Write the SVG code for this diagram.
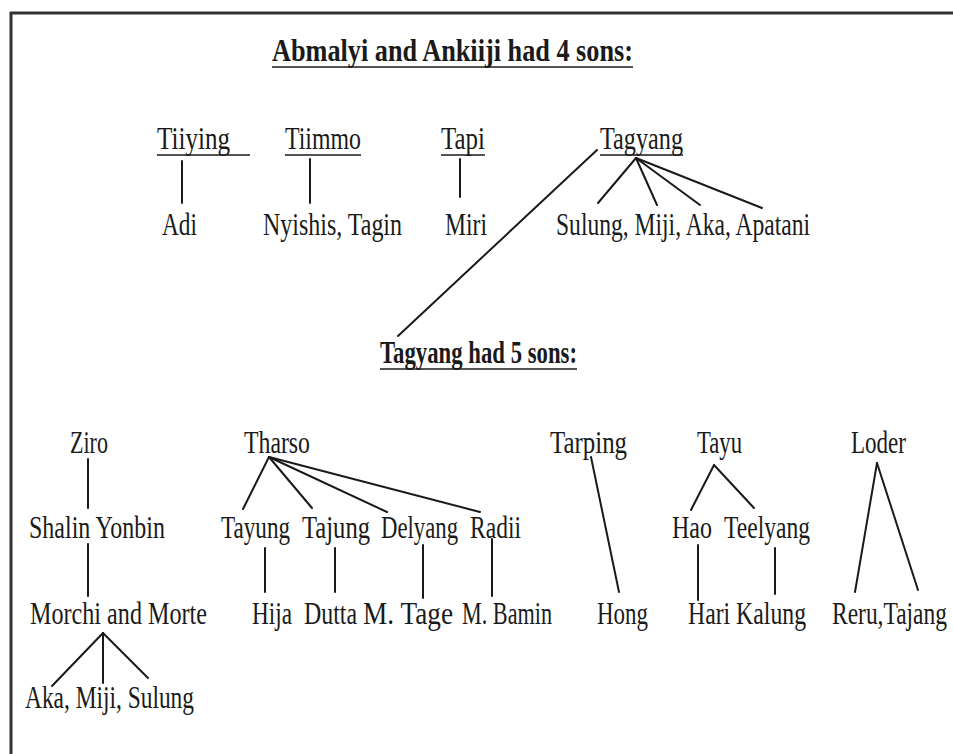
<svg xmlns="http://www.w3.org/2000/svg" width="953" height="754" viewBox="0 0 953 754">
<style>
text{font-family:"Liberation Serif","Times New Roman",serif;font-size:31px;fill:#1a1a1a}
.t{font-weight:bold}
.c line{stroke:#1a1a1a;stroke-width:2;stroke-linecap:round}
.u{stroke:#1a1a1a;stroke-width:1.6}
</style>
<rect width="953" height="754" fill="#ffffff"/>
<g id="frame" stroke="#333" stroke-width="3" fill="none">
<line x1="10" y1="13" x2="953" y2="13"/>
<line x1="11" y1="12" x2="11" y2="754"/>
</g>
<g id="title1"><text class="t" x="272" y="61" textLength="361" lengthAdjust="spacingAndGlyphs">Abmalyi and Ankiiji had 4 sons:</text><line class="u" x1="272" y1="67" x2="633" y2="67" stroke-width="2"/></g>
<g id="tiiying"><text x="157" y="149" textLength="73" lengthAdjust="spacingAndGlyphs">Tiiying</text><line class="u" x1="157" y1="155" x2="250" y2="155"/></g>
<g id="tiimmo"><text x="285" y="149" textLength="76" lengthAdjust="spacingAndGlyphs">Tiimmo</text><line class="u" x1="285" y1="155" x2="361" y2="155"/></g>
<g id="tapi"><text x="441" y="149" textLength="44" lengthAdjust="spacingAndGlyphs">Tapi</text><line class="u" x1="441" y1="155" x2="485" y2="155"/></g>
<g id="tagyang"><text x="600" y="149" textLength="83" lengthAdjust="spacingAndGlyphs">Tagyang</text><line class="u" x1="600" y1="155" x2="683" y2="155"/></g>
<g id="adi"><text x="162" y="235" textLength="35" lengthAdjust="spacingAndGlyphs">Adi</text></g>
<g id="nyishis"><text x="263" y="235" textLength="139" lengthAdjust="spacingAndGlyphs">Nyishis, Tagin</text></g>
<g id="miri"><text x="445" y="235" textLength="42" lengthAdjust="spacingAndGlyphs">Miri</text></g>
<g id="sulung1"><text x="556" y="235" textLength="254" lengthAdjust="spacingAndGlyphs">Sulung, Miji, Aka, Apatani</text></g>
<g id="title2"><text class="t" x="380" y="363" textLength="197" lengthAdjust="spacingAndGlyphs">Tagyang had 5 sons:</text><line class="u" x1="380" y1="369" x2="577" y2="369" stroke-width="2"/></g>
<g id="ziro"><text x="70" y="453" textLength="38" lengthAdjust="spacingAndGlyphs">Ziro</text></g>
<g id="tharso"><text x="244" y="453" textLength="66" lengthAdjust="spacingAndGlyphs">Tharso</text></g>
<g id="tarping"><text x="550" y="453" textLength="77" lengthAdjust="spacingAndGlyphs">Tarping</text></g>
<g id="tayu"><text x="697" y="453" textLength="45" lengthAdjust="spacingAndGlyphs">Tayu</text></g>
<g id="loder"><text x="851" y="453" textLength="55" lengthAdjust="spacingAndGlyphs">Loder</text></g>
<g id="shalin"><text x="29" y="538" textLength="136" lengthAdjust="spacingAndGlyphs">Shalin Yonbin</text></g>
<g id="tayung"><text x="221" y="538" textLength="69" lengthAdjust="spacingAndGlyphs">Tayung</text></g>
<g id="tajung"><text x="302" y="538" textLength="68" lengthAdjust="spacingAndGlyphs">Tajung</text></g>
<g id="delyang"><text x="381" y="538" textLength="77" lengthAdjust="spacingAndGlyphs">Delyang</text></g>
<g id="radii"><text x="470" y="538" textLength="51" lengthAdjust="spacingAndGlyphs">Radii</text></g>
<g id="hao"><text x="672" y="538" textLength="40" lengthAdjust="spacingAndGlyphs">Hao</text></g>
<g id="teelyang"><text x="724" y="538" textLength="86" lengthAdjust="spacingAndGlyphs">Teelyang</text></g>
<g id="morchi"><text x="30" y="624" textLength="177" lengthAdjust="spacingAndGlyphs">Morchi and Morte</text></g>
<g id="hija"><text x="252" y="624" textLength="40" lengthAdjust="spacingAndGlyphs">Hija</text></g>
<g id="dutta"><text x="304" y="624" textLength="53" lengthAdjust="spacingAndGlyphs">Dutta</text></g>
<g id="mtage"><text x="363" y="624" textLength="90" lengthAdjust="spacingAndGlyphs">M. Tage</text></g>
<g id="mbamin"><text x="462" y="624" textLength="90" lengthAdjust="spacingAndGlyphs">M. Bamin</text></g>
<g id="hong"><text x="597" y="624" textLength="51" lengthAdjust="spacingAndGlyphs">Hong</text></g>
<g id="harikalung"><text x="688" y="624" textLength="118" lengthAdjust="spacingAndGlyphs">Hari Kalung</text></g>
<g id="reru"><text x="832" y="624" textLength="115" lengthAdjust="spacingAndGlyphs">Reru,Tajang</text></g>
<g id="aka2"><text x="25" y="708" textLength="169" lengthAdjust="spacingAndGlyphs">Aka, Miji, Sulung</text></g>
<g id="connectors" class="c">
<line x1="182" y1="161" x2="182" y2="203"/>
<line x1="310" y1="159" x2="310" y2="203"/>
<line x1="460" y1="159" x2="460" y2="197"/>
<line x1="636" y1="158" x2="598" y2="203"/>
<line x1="636" y1="158" x2="657" y2="205"/>
<line x1="636" y1="158" x2="700" y2="205"/>
<line x1="636" y1="158" x2="762" y2="208"/>
<line x1="597" y1="150" x2="398" y2="336"/>
<line x1="88" y1="459" x2="88" y2="508"/>
<line x1="88" y1="544" x2="88" y2="596"/>
<line x1="103" y1="633" x2="52" y2="686"/>
<line x1="103" y1="633" x2="103" y2="683"/>
<line x1="103" y1="633" x2="148" y2="678"/>
<line x1="269" y1="457" x2="243" y2="509"/>
<line x1="269" y1="457" x2="312" y2="508"/>
<line x1="269" y1="457" x2="387" y2="512"/>
<line x1="269" y1="457" x2="480" y2="512"/>
<line x1="265" y1="548" x2="265" y2="592"/>
<line x1="335" y1="548" x2="335" y2="592"/>
<line x1="423" y1="545" x2="423" y2="598"/>
<line x1="492" y1="539" x2="492" y2="596"/>
<line x1="591" y1="457" x2="619" y2="592"/>
<line x1="714" y1="465" x2="691" y2="510"/>
<line x1="714" y1="465" x2="754" y2="508"/>
<line x1="698" y1="545" x2="698" y2="600"/>
<line x1="775" y1="548" x2="775" y2="594"/>
<line x1="877" y1="463" x2="855" y2="592"/>
<line x1="877" y1="463" x2="918" y2="590"/>
</g>
</svg>
